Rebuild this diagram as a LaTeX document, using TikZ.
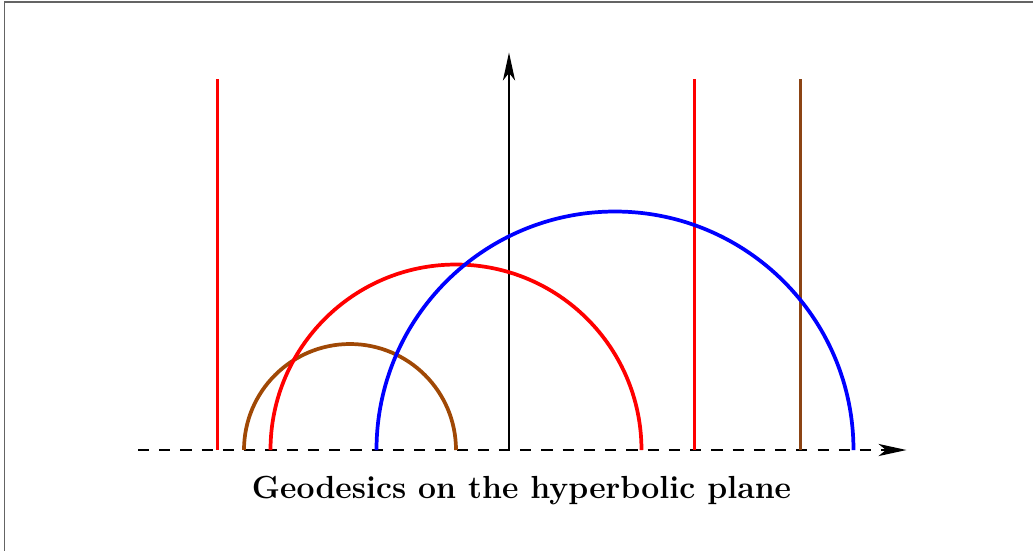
\documentclass[tikz,border=0pt]{standalone}
\usetikzlibrary{arrows.meta}
\definecolor{arcbrown}{RGB}{160,72,5}
\definecolor{linebrown}{RGB}{140,68,20}
\definecolor{framegray}{RGB}{100,100,100}
\tikzset{
  geo/.style={line width=2pt},
  vline/.style={line width=1.1pt},
  axis/.style={line width=1pt,-{Stealth[length=15pt,width=6.5pt,inset=4pt]}},
}
\begin{document}
\begin{tikzpicture}[x=1cm,y=1cm]
\useasboundingbox (-9.604,-1.887) rectangle (9.887,8.491);
\draw[framegray,line width=1pt] (-9.52,-2) -- (-9.52,8.455) -- (10,8.455);
% axes
\draw[axis,dash pattern=on 6pt off 5.4pt] (-7,0) -- (7.5,0);
\draw[axis] (0,0) -- (0,7.5);
% vertical geodesics
\draw[vline,red] (-5.5,0) -- (-5.5,7);
\draw[vline,red] (3.5,0) -- (3.5,7);
\draw[vline,linebrown] (5.5,0) -- (5.5,7);
% semicircles
\draw[geo,arcbrown] (-5,0) arc[start angle=180,end angle=0,radius=2];
\draw[geo,red] (-4.5,0) arc[start angle=180,end angle=0,radius=3.5];
\draw[geo,blue] (-2.5,0) arc[start angle=180,end angle=0,radius=4.5];
\node[anchor=base,inner sep=0pt,font=\fontsize{17.15}{20}\selectfont\bfseries] (cap) at (0.236,-0.906) {Geodesics on the hyperbolic plane};
\end{tikzpicture}
\end{document}
